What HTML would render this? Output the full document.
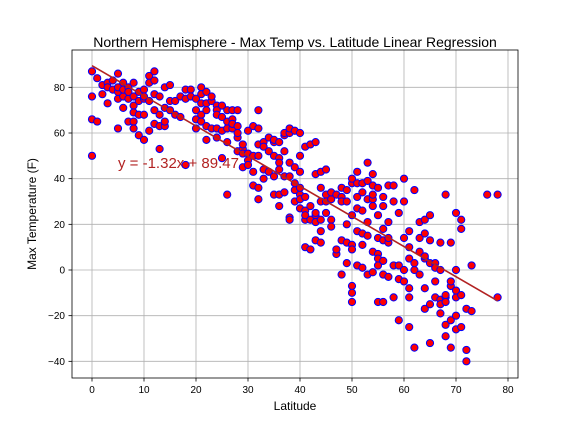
<!DOCTYPE html>
<html><head><meta charset="utf-8"><style>
body{margin:0;background:#fff}
svg{display:block;font-family:"Liberation Sans","DejaVu Sans",sans-serif}
</style></head><body>
<svg id="chart" width="576" height="432" viewBox="0 0 576 432">
<rect width="576" height="432" fill="#fff"/>
<text x="295" y="47" font-size="14" text-anchor="middle">Northern Hemisphere - Max Temp vs. Latitude Linear Regression</text>
<g id="grid"></g>
<text x="118" y="168" font-size="15" fill="#b22222">y = -1.32x + 89.47</text>
<g id="points"></g>
<g id="line"></g>
<rect x="72" y="50" width="446" height="328" fill="none" stroke="#000" stroke-width="0.8"/>
<g id="ticks"></g>
<text x="295" y="410" font-size="12" text-anchor="middle">Latitude</text>
<text x="36" y="214" font-size="12" text-anchor="middle" transform="rotate(-90 36 214)">Max Temperature (F)</text>
</svg>
<script>
const xTicks=[0,10,20,30,40,50,60,70,80];
const yTicks=[-40,-20,0,20,40,60,80];
const slope=-1.32;
const intercept=89.47;
const lineRange=[0,78];
const groups=[
[0,[87,76,66,50]],[1,[84,65]],[2,[81,77]],[3,[82,73,80]],[4,[83,79]],
[5,[75,78,86,62,80]],[6,[76,71,82,79]],[7,[80,75,78,65]],[8,[82,65,72,62,69,76]],
[9,[74,68,78,59]],[10,[75,79,57,68,76]],[11,[85,82,74,61]],[12,[87,83,64,77,70]],
[13,[68,76,63,53]],[14,[63,71,65,80]],[15,[81,70,74]],[16,[68,74]],[17,[76,67]],
[18,[79,46,75]],[19,[79,76]],[20,[70,75,66,62]],[21,[80,77,73,68,65]],[22,[78,57,73,63,70]],
[23,[74,62,76]],[24,[72,62,70,58,68]],[25,[72,67,49,61]],[26,[70,33,56,65,62]],
[27,[66,62,70,64]],[28,[63,58,70,52,60]],[29,[53,55,45,51]],[30,[61,51,48,46]],
[31,[50,63,43,37]],[32,[70,62,55,50,36,31]],[33,[56,44,40,54]],[34,[52,43,58]],
[35,[56,33,57,50,41]],[36,[49,33,28,56,47,44]],[37,[59,52,60,41,34]],[38,[60,41,23,47,62,22]],
[39,[61,35,38,30,45]],[40,[50,27,33,36,60,43,31]],[41,[54,10,22,32,26,24]],[42,[28,22,9,55]],
[43,[42,24,56,13,25,21]],[44,[36,43,22,30,17,12]],[45,[33,25,30,44]],[46,[31,22,19,34]],
[47,[33,7,9]],[48,[36,32,30,13,-2]],[49,[35,30,20,12,3]],[50,[38,40,-7,-10,-14,11,9,24]],
[51,[43,32,38,27,17,2]],[52,[26,38,34,11,16,1]],[53,[47,39,31,21,-2,15]],[54,[42,37,31,33,28,8,-1]],
[55,[36,24,7,5,-14,2,14]],[56,[32,28,13,4,-2,-14,18]],[57,[37,12,14,21,-3]],[58,[37,30,-12,2]],
[59,[25,-22,2,-4]],[60,[40,30,-5,14,0]],[61,[5,-8,17,10,-12,-25]],[62,[35,0,-34,3]],
[63,[8,-2,21,14]],[64,[22,-8,-17,5,16,6]],[65,[24,-32,-15,3,13]],[66,[3,-5,-12,1]],
[67,[12,-13,-19,0,-15]],[68,[-29,33,-24,-12,-11,-14]],[69,[12,-34,-22,-7,-5]],
[70,[25,-20,-26,0,-12,-9]],[71,[22,18,-11,-25]],[72,[-17,-40,-35]],[73,[2,-18]],[76,[33]],[78,[-12,33]]
];
const latitudes=[];const temps=[];
groups.forEach(g=>g[1].forEach(t=>{latitudes.push(g[0]);temps.push(t);}));
const xs=v=>92+v*5.2;
const ys=v=>270-v*2.2833;
const NS="http://www.w3.org/2000/svg";
function mk(tag,attrs,parent){const e=document.createElementNS(NS,tag);for(const k in attrs)e.setAttribute(k,attrs[k]);parent.appendChild(e);return e;}
const grid=document.getElementById('grid'),ticks=document.getElementById('ticks');
xTicks.forEach(t=>{
 const g=mk('line',{x1:xs(t),x2:xs(t),y1:50,y2:378,stroke:'#b0b0b0','stroke-width':0.8},grid);
 
 
 mk('line',{x1:xs(t),x2:xs(t),y1:378,y2:381.5,stroke:'#000','stroke-width':0.8},ticks);
 const tx=mk('text',{x:xs(t),y:393,'font-size':10,'text-anchor':'middle'},ticks);tx.textContent=t;
 
 
});
yTicks.forEach(t=>{
 const g=mk('line',{x1:72,x2:518,y1:ys(t),y2:ys(t),stroke:'#b0b0b0','stroke-width':0.8},grid);
 
 
 mk('line',{x1:68.5,x2:72,y1:ys(t),y2:ys(t),stroke:'#000','stroke-width':0.8},ticks);
 const tx=mk('text',{x:65,y:ys(t)+3.5,'font-size':10,'text-anchor':'end'},ticks);tx.textContent=t<0?'\u2212'+(-t):t;
 
 
});
const pts=document.getElementById('points');
latitudes.forEach((la,i)=>{
 const c=mk('circle',{cx:xs(la),cy:ys(temps[i]),r:3.6,fill:'#ff0000',stroke:'#0000ff','stroke-width':1},pts);
 
 
});
const l=mk('line',{x1:xs(lineRange[0]),y1:ys(slope*lineRange[0]+intercept),x2:xs(lineRange[1]),y2:ys(slope*lineRange[1]+intercept),stroke:'#b22222','stroke-width':1.6},document.getElementById('line'));


</script>
</body></html>
